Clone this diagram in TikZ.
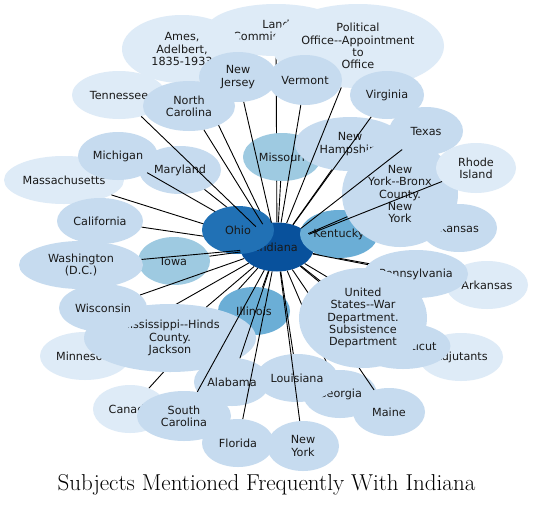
\documentclass[tikz,border=0pt]{standalone}
\usepackage{fontspec}
\usepackage{tikz}
\usetikzlibrary{shapes.geometric}
\newfontfamily\subjfont{DejaVu Sans}
\definecolor{blueA}{HTML}{DEEBF7}
\definecolor{blueB}{HTML}{C6DBEF}
\definecolor{blueC}{HTML}{9ECAE1}
\definecolor{blueD}{HTML}{6BAED6}
\definecolor{blueE}{HTML}{2171B5}
\definecolor{blueF}{HTML}{08519C}

\begin{document}
\begin{tikzpicture}[
    x=1pt, y=-1pt,
    subj/.style={ellipse, inner sep=0pt, align=center, text=black!90, font=\subjfont\fontsize{11.2}{12.2}\selectfont},
    pale/.style={subj, fill=blueA},
    plain/.style={subj, fill=blueB},
    mid/.style={subj, fill=blueC},
    strong/.style={subj, fill=blueD},
    deep/.style={subj, fill=blueE},
    core/.style={subj, fill=blueF},
    sz/.style 2 args={minimum width=#1pt, minimum height=#2pt},
    tie/.style={draw=black, line width=0.9pt}
]
\useasboundingbox[fill=white] (0,0) rectangle (533,507);

\node[core, sz={74}{49}] (ind) at (277,247) {Indiana};

\node[pale, sz={140}{52}] (land) at (276,30) {Land\\Commissioners};
\draw[tie] (ind) -- (land);
\node[pale, sz={120}{68}] (ames) at (182,49) {Ames,\\Adelbert,\\1835-1933};
\draw[tie] (ind) -- (ames);
\node[pale, sz={120}{48}] (mass) at (64,180) {Massachusetts};
\draw[tie] (ind) -- (mass);
\node[plain, sz={86}{46}] (cali) at (100,221) {California};
\draw[tie] (ind) -- (cali);
\node[plain, sz={82}{48}] (mary) at (180,170) {Maryland};
\draw[tie] (ind) -- (mary);
\node[plain, sz={80}{48}] (mich) at (118,156) {Michigan};
\draw[tie] (ind) -- (mich);
\node[mid, sz={78}{48}] (miss) at (282,157) {Missouri};
\draw[tie] (ind) -- (miss);
\node[plain, sz={110}{54}] (nham) at (350,144) {New\\Hampshire};
\draw[tie] (ind) -- (nham);
\node[pale, sz={172}{84}] (pol) at (358,46) {Political\\Office-{}-Appointment\\to\\Office};
\draw[tie] (ind) -- (pol);
\node[pale, sz={90}{48}] (minn) at (85,356) {Minnesota};
\draw[tie] (ind) -- (minn);
\node[plain, sz={76}{48}] (kans) at (459,228) {Kansas};
\draw[tie] (ind) -- (kans);
\node[plain, sz={74}{48}] (geor) at (340,394) {Georgia};
\draw[tie] (ind) -- (geor);
\node[pale, sz={84}{48}] (adj) at (461,357) {Adjutants};
\draw[tie] (ind) -- (adj);
\node[pale, sz={82}{48}] (arka) at (487,285) {Arkansas};
\draw[tie] (ind) -- (arka);
\node[pale, sz={74}{48}] (cana) at (130,409) {Canada};
\draw[tie] (ind) -- (cana);
\node[plain, sz={90}{46}] (conn) at (403,346) {Connecticut};
\draw[tie] (ind) -- (conn);
\node[plain, sz={72}{48}] (main) at (389,412) {Maine};
\draw[tie] (ind) -- (main);
\node[deep, sz={72}{48}] (ohio) at (238,230) {Ohio};
\node[strong, sz={78}{48}] (kent) at (339,234) {Kentucky};
\node[mid, sz={72}{48}] (iowa) at (174,261) {Iowa};
\draw[tie] (ind) -- (iowa);
\node[strong, sz={72}{48}] (illi) at (254,311) {Illinois};
\draw[tie] (ind) -- (illi);
\node[pale, sz={94}{48}] (tenn) at (119,95) {Tennessee};
\draw[tie] (ind) -- (tenn);
\node[plain, sz={124}{48}] (wash) at (81,265) {Washington\\(D.C.)};
\draw[tie] (ind) -- (wash);
\node[plain, sz={92}{50}] (ncar) at (189,106) {North\\Carolina};
\draw[tie] (ind) -- (ncar);
\node[plain, sz={78}{50}] (njer) at (238,77) {New\\Jersey};
\draw[tie] (ind) -- (njer);
\node[plain, sz={74}{50}] (verm) at (305,80) {Vermont};
\draw[tie] (ind) -- (verm);
\node[plain, sz={74}{48}] (virg) at (387,95) {Virginia};
\draw[tie] (ind) -- (virg);
\node[plain, sz={116}{106}] (nyb) at (400,194) {New\\York-{}-Bronx\\County.\\New\\York};
\draw[tie] (ind) -- (nyb);
\node[plain, sz={74}{48}] (texa) at (426,131) {Texas};
\draw[tie] (ind) -- (texa);
\node[pale, sz={80}{50}] (rhod) at (476,168) {Rhode\\Island};
\draw[tie] (ind) -- (rhod);
\node[plain, sz={102}{48}] (penn) at (416,274) {Pennsylvania};
\draw[tie] (ind) -- (penn);
\node[plain, sz={128}{100}] (usw) at (363,318) {United\\States-{}-War\\Department.\\Subsistence\\Department};
\draw[tie] (ind) -- (usw);
\node[plain, sz={172}{68}] (mshj) at (170,338) {Mississippi-{}-Hinds\\County.\\Jackson};
\draw[tie] (ind) -- (mshj);
\node[plain, sz={88}{48}] (wisc) at (103,308) {Wisconsin};
\draw[tie] (ind) -- (wisc);
\node[plain, sz={76}{48}] (alab) at (232,382) {Alabama};
\draw[tie] (ind) -- (alab);
\node[plain, sz={94}{50}] (scar) at (184,416) {South\\Carolina};
\draw[tie] (ind) -- (scar);
\node[plain, sz={82}{48}] (loui) at (297,378) {Louisiana};
\draw[tie] (ind) -- (loui);
\node[plain, sz={72}{48}] (flor) at (238,443) {Florida};
\draw[tie] (ind) -- (flor);
\node[plain, sz={72}{50}] (nyor) at (303,446) {New\\York};
\draw[tie] (ind) -- (nyor);

\node[font=\fontsize{23}{27}\selectfont] (title) at (266.5,485) {Subjects Mentioned Frequently With Indiana};

\end{tikzpicture}
\end{document}
